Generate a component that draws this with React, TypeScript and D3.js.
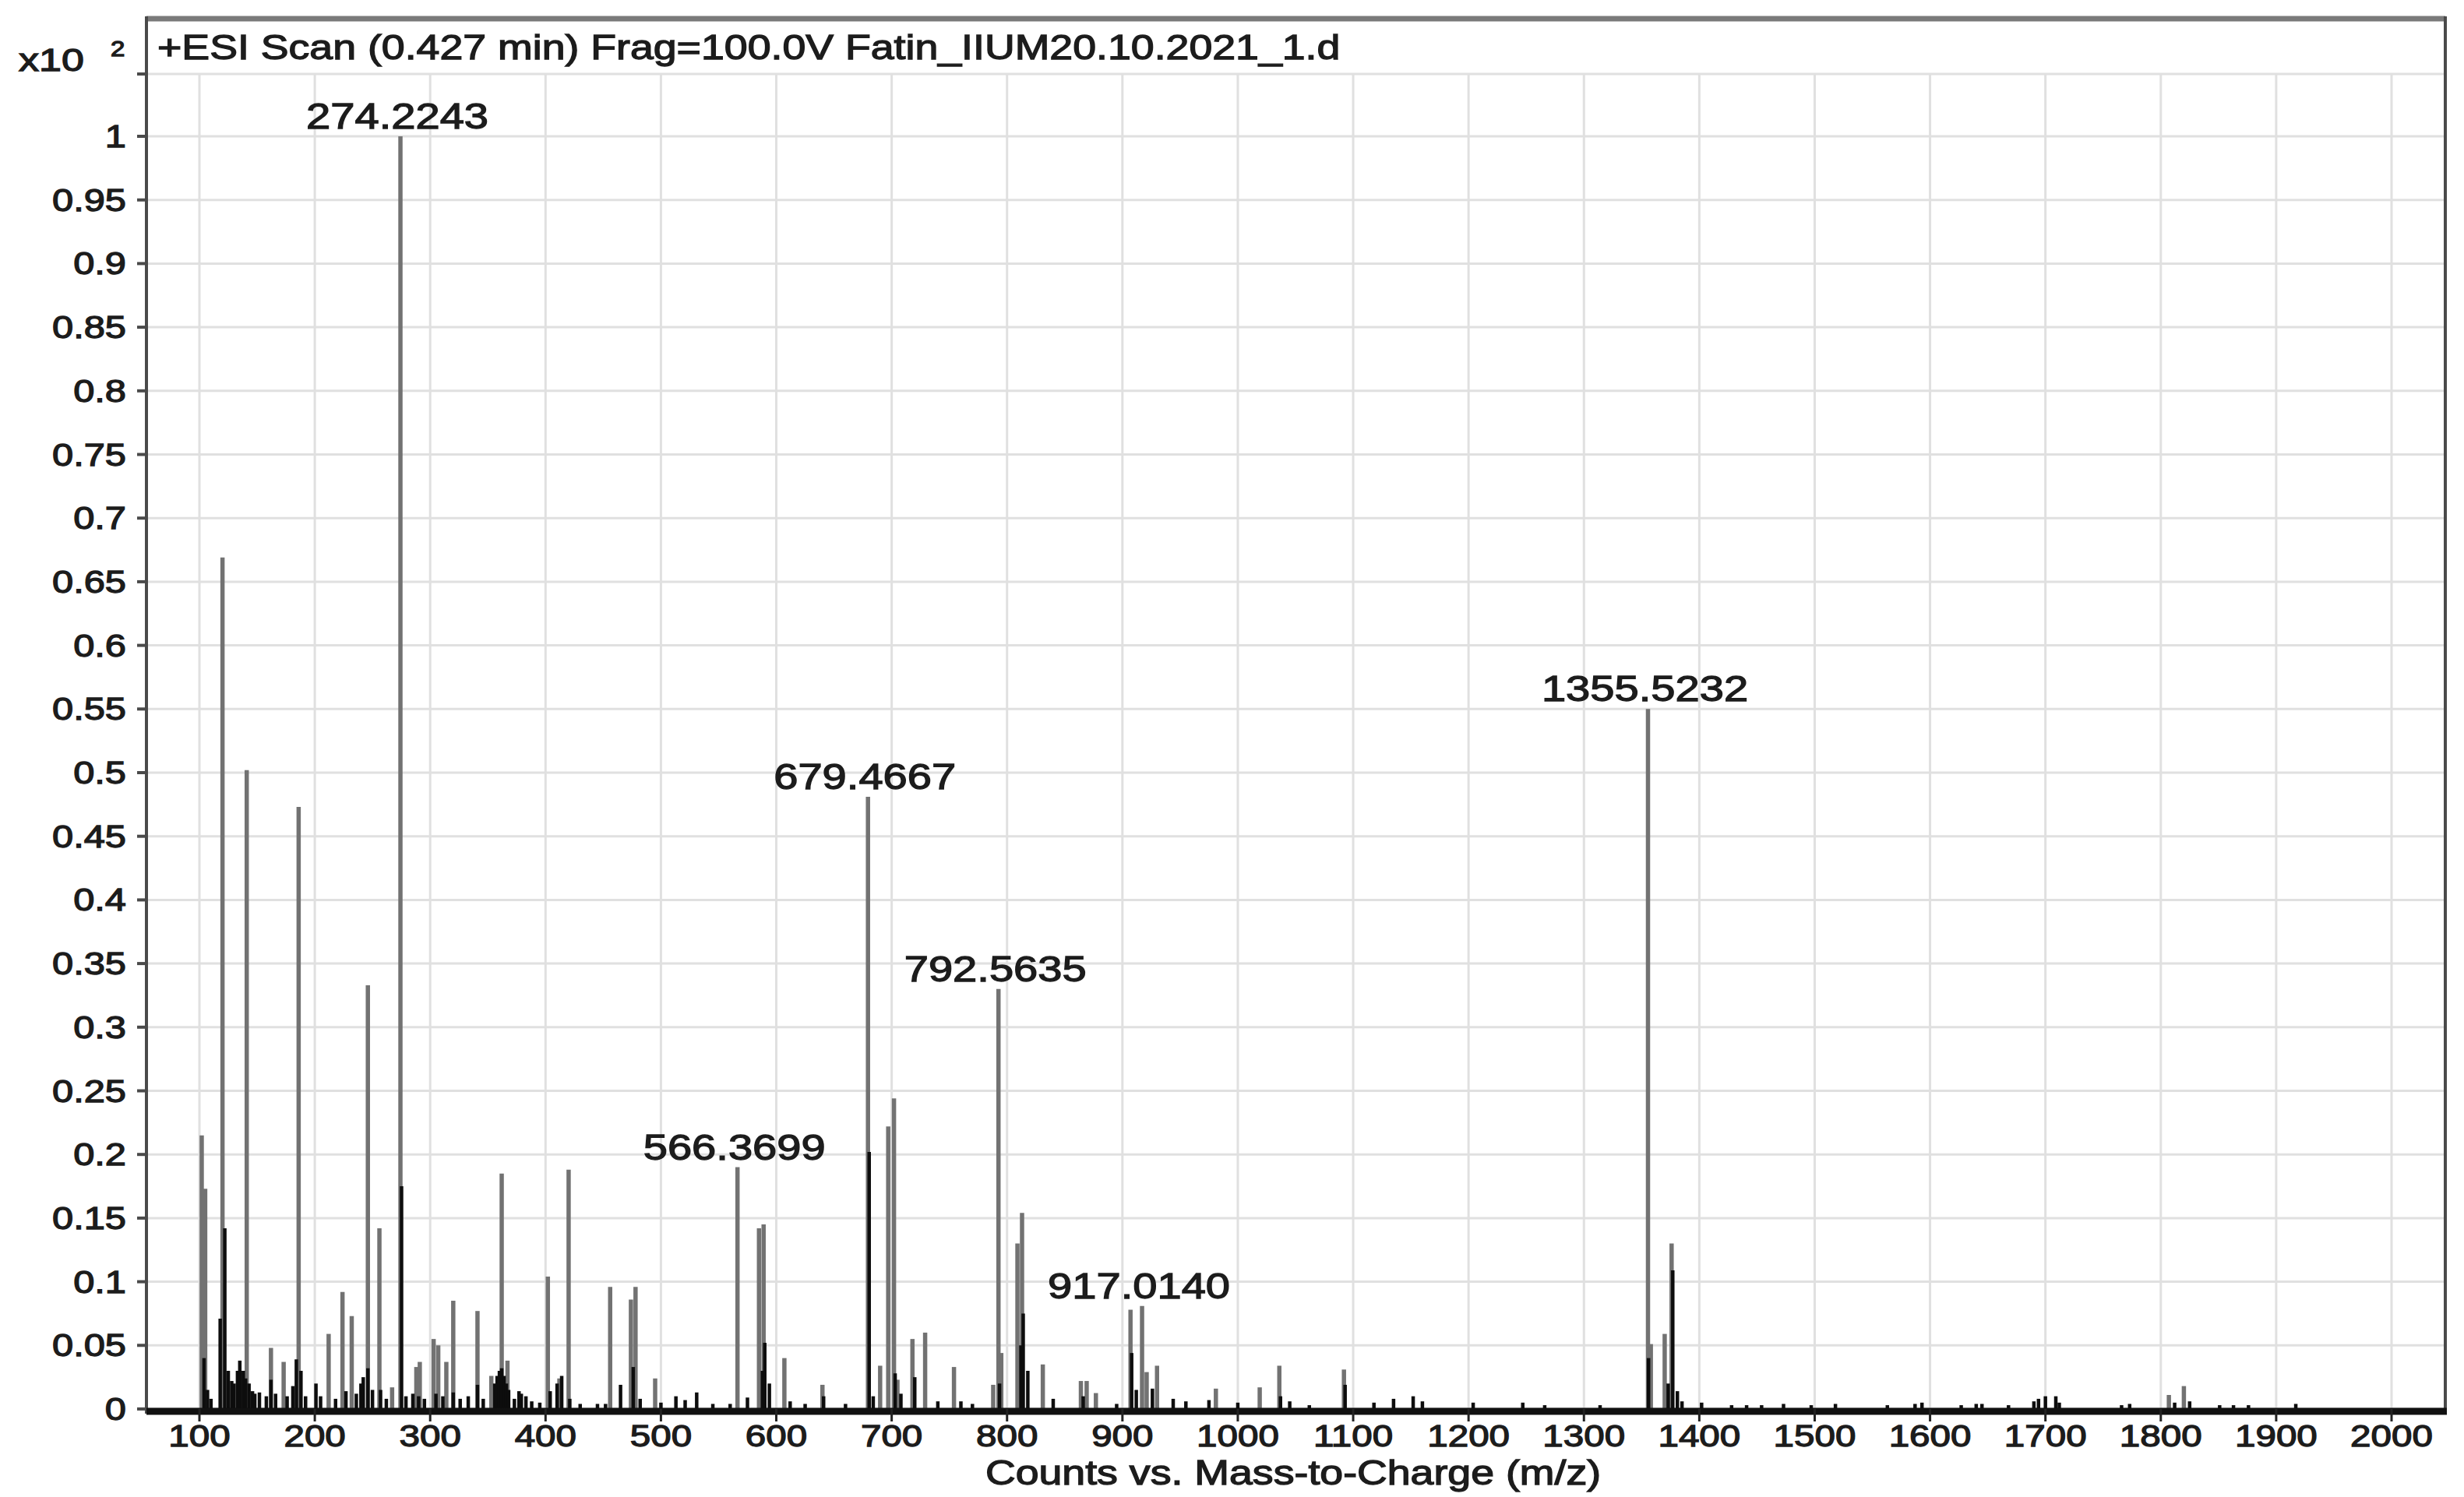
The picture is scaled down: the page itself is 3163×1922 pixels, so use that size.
import React from "react";
import * as d3 from "d3";

const W = 3163;
const H = 1922;

// ---------- data ----------
const titleText = "+ESI Scan (0.427 min) Frag=100.0V Fatin_IIUM20.10.2021_1.d";
const xAxisTitle = "Counts vs. Mass-to-Charge (m/z)";

const xTicks = [100, 200, 300, 400, 500, 600, 700, 800, 900, 1000, 1100, 1200, 1300, 1400, 1500, 1600, 1700, 1800, 1900, 2000];
const yTicks = [0, 0.05, 0.1, 0.15, 0.2, 0.25, 0.3, 0.35, 0.4, 0.45, 0.5, 0.55, 0.6, 0.65, 0.7, 0.75, 0.8, 0.85, 0.9, 0.95, 1];
const yTickLabels = ["0", "0.05", "0.1", "0.15", "0.2", "0.25", "0.3", "0.35", "0.4", "0.45", "0.5", "0.55", "0.6", "0.65", "0.7", "0.75", "0.8", "0.85", "0.9", "0.95", "1"];

// tall (grey-rendered) centroid lines
const greyMz = [102, 105, 120, 141, 162, 173, 186, 212, 224, 232, 246, 256, 267, 274.2243, 288, 291, 303, 307, 314, 320, 341, 353, 362, 367, 402, 412, 420, 456, 474, 478, 495, 566.3699, 585, 589, 607, 640, 679.4667, 690, 697, 702, 705, 718, 729, 754, 788, 792.5635, 795, 809, 813, 831, 864, 869, 877, 907, 917.014, 921, 930, 981, 1019, 1036, 1092, 1355.5232, 1358, 1370, 1376, 1807, 1820];
const greyInt = [0.215, 0.173, 0.669, 0.502, 0.048, 0.037, 0.473, 0.059, 0.092, 0.073, 0.333, 0.142, 0.017, 1.0, 0.033, 0.037, 0.055, 0.05, 0.037, 0.085, 0.077, 0.026, 0.185, 0.038, 0.104, 0.024, 0.188, 0.096, 0.086, 0.096, 0.024, 0.19, 0.142, 0.145, 0.04, 0.019, 0.481, 0.034, 0.222, 0.244, 0.023, 0.055, 0.06, 0.033, 0.019, 0.33, 0.044, 0.13, 0.154, 0.035, 0.022, 0.022, 0.0125, 0.078, 0.081, 0.029, 0.034, 0.016, 0.017, 0.034, 0.031, 0.55, 0.051, 0.059, 0.13, 0.011, 0.018];

// dense (black-rendered) profile clusters near the baseline
const blackMz = [104, 107, 110, 118, 122, 125, 128, 130, 133, 135, 138, 140, 143, 146, 148, 152, 158, 162, 166, 176, 181, 184, 188, 192, 201, 205, 218, 227, 236, 240, 242, 246, 250, 257, 262, 275.2, 279, 285, 290, 295, 305, 311, 320, 326, 333, 341, 346, 356, 358, 360, 362, 364, 366, 368, 373, 377, 379, 383, 388, 395, 404, 410, 414, 421, 430, 445, 452, 465, 476, 482, 500, 513, 521, 531, 545, 560, 575, 588, 590, 594, 612, 625, 641, 660, 680.5, 684, 703, 708, 720, 740, 760, 770, 793.5, 812, 814, 818, 840, 866, 895, 908, 912, 926, 944, 955, 975, 1000, 1037, 1045, 1062, 1093, 1118, 1135, 1152, 1160, 1204, 1247, 1266, 1314, 1356, 1373, 1377, 1381, 1385, 1402, 1428, 1441, 1454, 1473, 1497, 1518, 1563, 1587, 1593, 1627, 1640, 1645, 1668, 1690, 1694, 1700, 1709, 1712, 1766, 1773, 1812, 1825, 1851, 1863, 1876, 1917];
const blackInt = [0.04, 0.015, 0.008, 0.071, 0.142, 0.03, 0.022, 0.02, 0.03, 0.038, 0.03, 0.024, 0.02, 0.014, 0.012, 0.013, 0.01, 0.023, 0.012, 0.01, 0.018, 0.039, 0.03, 0.01, 0.02, 0.01, 0.008, 0.014, 0.012, 0.02, 0.025, 0.032, 0.015, 0.015, 0.008, 0.175, 0.01, 0.012, 0.01, 0.008, 0.012, 0.01, 0.013, 0.008, 0.01, 0.019, 0.008, 0.02, 0.026, 0.03, 0.032, 0.026, 0.02, 0.015, 0.008, 0.014, 0.012, 0.01, 0.006, 0.005, 0.014, 0.02, 0.026, 0.008, 0.004, 0.004, 0.004, 0.019, 0.033, 0.008, 0.005, 0.01, 0.007, 0.013, 0.004, 0.004, 0.009, 0.03, 0.052, 0.02, 0.006, 0.004, 0.01, 0.004, 0.202, 0.01, 0.028, 0.012, 0.025, 0.006, 0.006, 0.004, 0.02, 0.05, 0.075, 0.03, 0.008, 0.01, 0.004, 0.044, 0.015, 0.016, 0.008, 0.006, 0.007, 0.005, 0.01, 0.006, 0.003, 0.019, 0.005, 0.008, 0.01, 0.006, 0.005, 0.005, 0.003, 0.003, 0.04, 0.02, 0.109, 0.014, 0.006, 0.005, 0.003, 0.003, 0.003, 0.004, 0.003, 0.004, 0.003, 0.004, 0.005, 0.003, 0.004, 0.004, 0.003, 0.006, 0.008, 0.01, 0.01, 0.005, 0.003, 0.004, 0.005, 0.006, 0.003, 0.003, 0.003, 0.004];

const labelMz = [274.2243, 566.3699, 679.4667, 792.5635, 917.014, 1355.5232];
const labelInt = [1.0, 0.19, 0.481, 0.33, 0.081, 0.55];
const labelText = ["274.2243", "566.3699", "679.4667", "792.5635", "917.0140", "1355.5232"];

// ---------- layout ----------
const FRAME_L = 188;
const FRAME_R = 3139;
const FRAME_T = 24;
const PLOT_T = 95;
const FONT = "'Liberation Sans', Arial, sans-serif";
const SX = 1.22;
const INK = "#1c1c1c";

const x = d3.scaleLinear().domain([100, 2000]).range([256, 3070]);
const y = d3.scaleLinear().domain([0, 1]).range([1809, 175]);
const BASE = y(0);

function SText(props: { x: number; y: number; anchor?: string; size: number; sx?: number; children: React.ReactNode }) {
  const { anchor = "start", size, sx = SX } = props;
  return (
    <text
      transform={`translate(${props.x},${props.y}) scale(${sx},1)`}
      textAnchor={anchor}
      fontSize={size}
      fontFamily={FONT}
      fill={INK}
      stroke={INK}
      strokeWidth={1.3}
    >
      {props.children}
    </text>
  );
}

export default function App() {
  const greyData = greyMz.map((m, i) => ({ m, v: greyInt[i] }));
  const blackData = blackMz.map((m, i) => ({ m, v: blackInt[i] }));
  const line = d3.line<[number, number]>();

  return (
    <svg
      width={W}
      height={H}
      viewBox={`0 0 ${W} ${H}`}
      style={{ position: "absolute", left: 0, top: 0, background: "#fff" }}
    >
      <rect x={0} y={0} width={W} height={H} fill="#fff" />

      {/* grid */}
      <g stroke="#e0e0e0" strokeWidth={3}>
        {yTicks.map((t) => (
          <line key={"gy" + t} x1={FRAME_L} x2={FRAME_R} y1={y(t)} y2={y(t)} />
        ))}
        {xTicks.map((t) => (
          <line key={"gx" + t} x1={x(t)} x2={x(t)} y1={PLOT_T} y2={BASE} />
        ))}
        <line x1={FRAME_L} x2={FRAME_R} y1={PLOT_T} y2={PLOT_T} />
      </g>

      {/* peaks */}
      <g stroke="#727272" strokeWidth={5.5}>
        {greyData.map((d, i) => (
          <path key={"g" + i} d={line([[x(d.m), BASE], [x(d.m), y(d.v)]]) || ""} />
        ))}
      </g>
      <g stroke="#0d0d0d" strokeWidth={4.5}>
        {blackData.map((d, i) => (
          <path key={"b" + i} d={line([[x(d.m), BASE], [x(d.m), y(d.v)]]) || ""} />
        ))}
      </g>

      {/* frame */}
      <line x1={FRAME_L} x2={FRAME_R} y1={FRAME_T} y2={FRAME_T} stroke="#7a7a7a" strokeWidth={7} />
      <line x1={FRAME_L} x2={FRAME_L} y1={FRAME_T - 3} y2={BASE + 6} stroke="#4a4a4a" strokeWidth={4} />
      <line x1={FRAME_R} x2={FRAME_R} y1={FRAME_T - 3} y2={BASE + 6} stroke="#4a4a4a" strokeWidth={4} />
      <line x1={FRAME_L} x2={FRAME_R + 2} y1={BASE + 3} y2={BASE + 3} stroke="#111" strokeWidth={9} />

      {/* y ticks */}
      <g stroke="#4a4a4a" strokeWidth={4}>
        {yTicks.map((t) => (
          <line key={"ty" + t} x1={FRAME_L - 12} x2={FRAME_L} y1={y(t)} y2={y(t)} />
        ))}
        <line x1={FRAME_L - 12} x2={FRAME_L} y1={PLOT_T} y2={PLOT_T} />
      </g>
      {yTicks.map((t, i) => (
        <SText key={"yl" + t} x={162} y={y(t) + 14} anchor="end" size={40}>
          {yTickLabels[i]}
        </SText>
      ))}

      {/* x ticks */}
      <g stroke="#222" strokeWidth={3}>
        {xTicks.map((t) => (
          <line key={"tx" + t} x1={x(t)} x2={x(t)} y1={BASE} y2={BASE + 16} />
        ))}
      </g>
      {xTicks.map((t) => (
        <SText key={"xl" + t} x={x(t)} y={1857} anchor="middle" size={39}>
          {String(t)}
        </SText>
      ))}

      {/* axis title */}
      <SText x={1660} y={1906} anchor="middle" size={44}>
        {xAxisTitle}
      </SText>

      {/* title and multiplier */}
      <SText x={202} y={76} size={44}>
        {titleText}
      </SText>
      <SText x={24} y={91} size={40} sx={1.3}>
        x10
      </SText>
      <SText x={142} y={72} size={27}>
        2
      </SText>

      {/* peak labels */}
      {labelMz.map((m, i) => (
        <SText key={"pl" + i} x={x(m) - 4} y={y(labelInt[i]) - 10} anchor="middle" size={46}>
          {labelText[i]}
        </SText>
      ))}
    </svg>
  );
}
